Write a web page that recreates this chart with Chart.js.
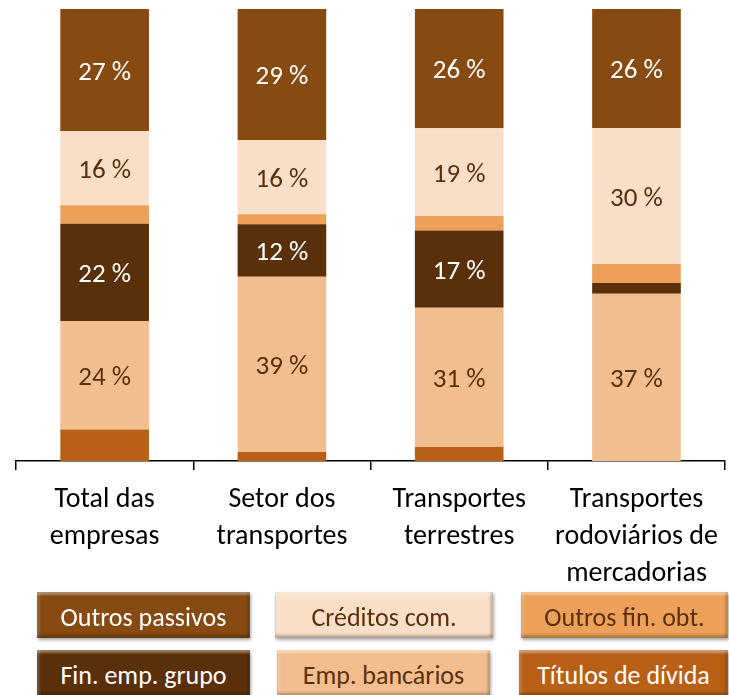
<!DOCTYPE html>
<html>
<head>
<meta charset="utf-8">
<script src="https://cdn.jsdelivr.net/npm/chart.js@4.4.1/dist/chart.umd.min.js"></script>
<style>
  body { margin: 0; background: #fff; }
  #wrap { position: relative; width: 729px; height: 695px; overflow: hidden; }
  #chart { position: absolute; left: 0; top: 0; }
  .leg {
    position: absolute; height: 46px; box-sizing: border-box; padding-top: 3px;
    font-family: Carlito, Lato, "Open Sans", sans-serif; font-size: 26px;
    display: flex; align-items: center; justify-content: center;
    box-shadow: inset 0 3px 2px rgba(255,255,255,0.35), inset 0 -3px 3px rgba(0,0,0,0.25),
                inset 3px 0 2px rgba(255,255,255,0.15), inset -3px 0 2px rgba(0,0,0,0.15),
                1px 2px 3px rgba(0,0,0,0.35);
  }
</style>
</head>
<body>
<div id="wrap">
  <canvas id="chart" width="729" height="605"></canvas>
  <div id="legend"></div>
</div>
<script>
const categories = [
  ["Total das", "empresas"],
  ["Setor dos", "transportes"],
  ["Transportes", "terrestres"],
  ["Transportes", "rodoviários de", "mercadorias"]
];

// series, bottom to top
const titulosDivida   = [7.0, 2.0, 3.1, 0.0];
const empBancarios    = [24.0, 38.8, 30.8, 37.0];
const finEmpGrupo     = [21.5, 11.6, 17.1, 2.4];
const outrosFinObt    = [4.1, 2.2, 3.2, 4.2];
const creditosCom     = [16.4, 16.4, 19.4, 30.1];
const outrosPassivos  = [27.0, 29.0, 26.4, 26.3];

const FONT = "Carlito, Lato, 'Open Sans', sans-serif";
const DARK_TEXT = "#5a300a";

const series = [
  { label: "Títulos de dívida", data: titulosDivida,  color: "#b86015", text: "#fff" },
  { label: "Emp. bancários",    data: empBancarios,   color: "#f2be8f", text: DARK_TEXT },
  { label: "Fin. emp. grupo",   data: finEmpGrupo,    color: "#5a300a", text: "#fff" },
  { label: "Outros fin. obt.",  data: outrosFinObt,   color: "#eda05a", text: DARK_TEXT },
  { label: "Créditos com.",     data: creditosCom,    color: "#f9dfc8", text: DARK_TEXT },
  { label: "Outros passivos",   data: outrosPassivos, color: "#874a10", text: "#fff" }
];

// value labels inside segments
const segLabels = {
  id: "segLabels",
  afterDatasetsDraw(chart) {
    const ctx = chart.ctx;
    ctx.save();
    ctx.font = "27px " + FONT;
    ctx.textAlign = "center";
    ctx.textBaseline = "middle";
    chart.data.datasets.forEach((ds, i) => {
      const meta = chart.getDatasetMeta(i);
      meta.data.forEach((bar, j) => {
        const v = ds.data[j];
        if (v < 10) return;
        const p = bar.getProps(["x", "y", "base"], true);
        ctx.fillStyle = series[i].text;
        ctx.fillText(Math.round(v) + " %", p.x, (p.y + p.base) / 2 + 3);
      });
    });
    ctx.restore();
  }
};

new Chart(document.getElementById("chart").getContext("2d"), {
  type: "bar",
  data: {
    labels: categories,
    datasets: series.map(s => ({
      label: s.label,
      data: s.data,
      backgroundColor: s.color,
      borderWidth: 0,
      barPercentage: 0.5,
      categoryPercentage: 1.0
    }))
  },
  options: {
    responsive: false,
    animation: false,
    devicePixelRatio: 1,
    layout: { padding: { left: 16, right: 1, top: 9, bottom: 2 } },
    plugins: { legend: { display: false }, tooltip: { enabled: false } },
    scales: {
      x: {
        stacked: true,
        offset: true,
        grid: { display: true, drawOnChartArea: false, tickLength: 9, color: "#000", lineWidth: 1.5, offset: true },
        border: { display: true, color: "#000", width: 1.5 },
        ticks: {
          color: "#000",
          padding: 11,
          maxRotation: 0,
          autoSkip: false,
          font: { family: FONT, size: 28, lineHeight: 1.32 }
        }
      },
      y: { stacked: true, display: false, min: 0, max: 100 }
    }
  },
  plugins: [segLabels]
});

// legend boxes (two rows of three)
const legendPos = [
  { i: 5, x: 37,  y: 592, w: 213 },
  { i: 4, x: 275, y: 592, w: 218 },
  { i: 3, x: 521, y: 592, w: 207 },
  { i: 2, x: 37,  y: 650, w: 213 },
  { i: 1, x: 277, y: 650, w: 213 },
  { i: 0, x: 519, y: 650, w: 209 }
];
const legend = document.getElementById("legend");
legendPos.forEach(p => {
  const s = series[p.i];
  const d = document.createElement("div");
  d.className = "leg";
  d.style.left = p.x + "px";
  d.style.top = p.y + "px";
  d.style.width = p.w + "px";
  d.style.background = s.color;
  d.style.color = s.text;
  d.textContent = s.label;
  legend.appendChild(d);
});
</script>
</body>
</html>
